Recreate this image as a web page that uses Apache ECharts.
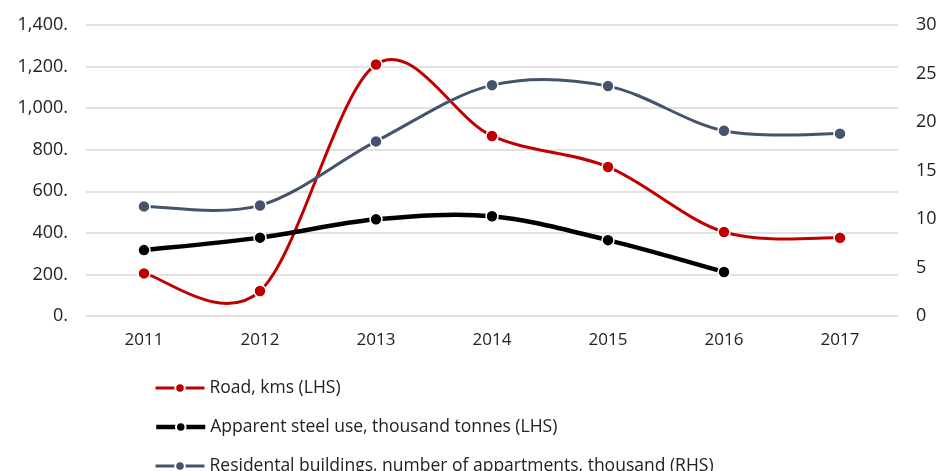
<!DOCTYPE html>
<html>
<head>
<meta charset="utf-8">
<script src="https://cdn.jsdelivr.net/npm/echarts@6/dist/echarts.min.js"></script>
<style>
  html, body { margin: 0; padding: 0; background: #fff; }
  #main { width: 944px; height: 471px; }
</style>
</head>
<body>
<div id="main"></div>
<script>
const years = ['2011', '2012', '2013', '2014', '2015', '2016', '2017'];
const road = [205, 120, 1210, 866, 717, 404, 376];
const steel = [317, 377, 465, 480, 365, 212, null];
const residential = [11.3, 11.4, 18.0, 23.8, 23.7, 19.1, 18.8];

const names = [
  'Road, kms (LHS)',
  'Apparent steel use, thousand tonnes (LHS)',
  'Residental buildings, number of appartments, thousand (RHS)'
];
const colors = ['#C00000', '#000000', '#44546A'];
const widths = [3, 4.5, 3];

const chartDom = document.getElementById('main');
const myChart = echarts.init(chartDom);
const font = 'Open Sans, Noto Sans, sans-serif';

// Excel-style smoothing: cubic bezier segments, control points at 1/6 of neighbour span
function smoothSeries(values, axisIdx, color, width) {
  return {
    type: 'custom',
    yAxisIndex: axisIdx,
    silent: true,
    z: 1,
    data: values.map((v, i) => [i, v]),
    renderItem: (params, api) => {
      const i = params.dataIndex;
      const n = values.length;
      if (i >= n - 1 || values[i] == null || values[i + 1] == null) return null;
      const pt = j => {
        const k = Math.max(0, Math.min(n - 1, j));
        const kk = values[k] == null ? (j < i ? i : i + 1) : k;
        return api.coord([kk, values[kk]]);
      };
      const p0 = pt(i - 1), p1 = pt(i), p2 = pt(i + 1), p3 = pt(i + 2);
      return {
        type: 'bezierCurve',
        shape: {
          x1: p1[0], y1: p1[1],
          x2: p2[0], y2: p2[1],
          cpx1: p1[0] + (p2[0] - p0[0]) / 6, cpy1: p1[1] + (p2[1] - p0[1]) / 6,
          cpx2: p2[0] - (p3[0] - p1[0]) / 6, cpy2: p2[1] - (p3[1] - p1[1]) / 6
        },
        style: { stroke: color, lineWidth: width, fill: null, lineCap: 'round' }
      };
    }
  };
}

function markerSeries(idx, values, axisIdx) {
  return {
    name: names[idx],
    type: 'line',
    yAxisIndex: axisIdx,
    data: values,
    z: 3,
    symbol: 'circle',
    symbolSize: 12,
    itemStyle: { color: colors[idx], borderColor: '#fff', borderWidth: 1.5 },
    lineStyle: { color: colors[idx], width: widths[idx], opacity: 0 }
  };
}

function legendFor(idx, top) {
  return {
    orient: 'vertical',
    left: 149,
    top: top,
    itemWidth: 49,
    itemHeight: 12,
    textStyle: { fontSize: 17.5, color: '#222', fontFamily: font },
    data: [{ name: names[idx], lineStyle: { opacity: 1, width: widths[idx] } }]
  };
}

const option = {
  animation: false,
  textStyle: { fontFamily: font },
  grid: { left: 86, right: 46, top: 25, bottom: 155 },
  legend: [legendFor(0, 374), legendFor(1, 413), legendFor(2, 452)],
  xAxis: {
    type: 'category',
    data: years,
    boundaryGap: true,
    axisLine: { show: false },
    axisTick: { show: false },
    axisLabel: { fontSize: 17, color: '#222', margin: 16 }
  },
  yAxis: [
    {
      type: 'value',
      min: 0, max: 1400, interval: 200,
      axisLine: { show: false },
      axisTick: { show: false },
      splitLine: { lineStyle: { color: '#d9d9d9', width: 1.5 } },
      axisLabel: {
        fontSize: 18, color: '#222', margin: 18,
        formatter: v => v.toLocaleString('en-US') + '.'
      }
    },
    {
      type: 'value',
      min: 0, max: 30, interval: 5,
      axisLine: { show: false },
      axisTick: { show: false },
      splitLine: { show: false },
      axisLabel: { fontSize: 18, color: '#222', margin: 18 }
    }
  ],
  series: [
    smoothSeries(road, 0, colors[0], widths[0]),
    smoothSeries(steel, 0, colors[1], widths[1]),
    smoothSeries(residential, 1, colors[2], widths[2]),
    markerSeries(0, road, 0),
    markerSeries(1, steel, 0),
    markerSeries(2, residential, 1)
  ]
};

option && myChart.setOption(option);
</script>
</body>
</html>
